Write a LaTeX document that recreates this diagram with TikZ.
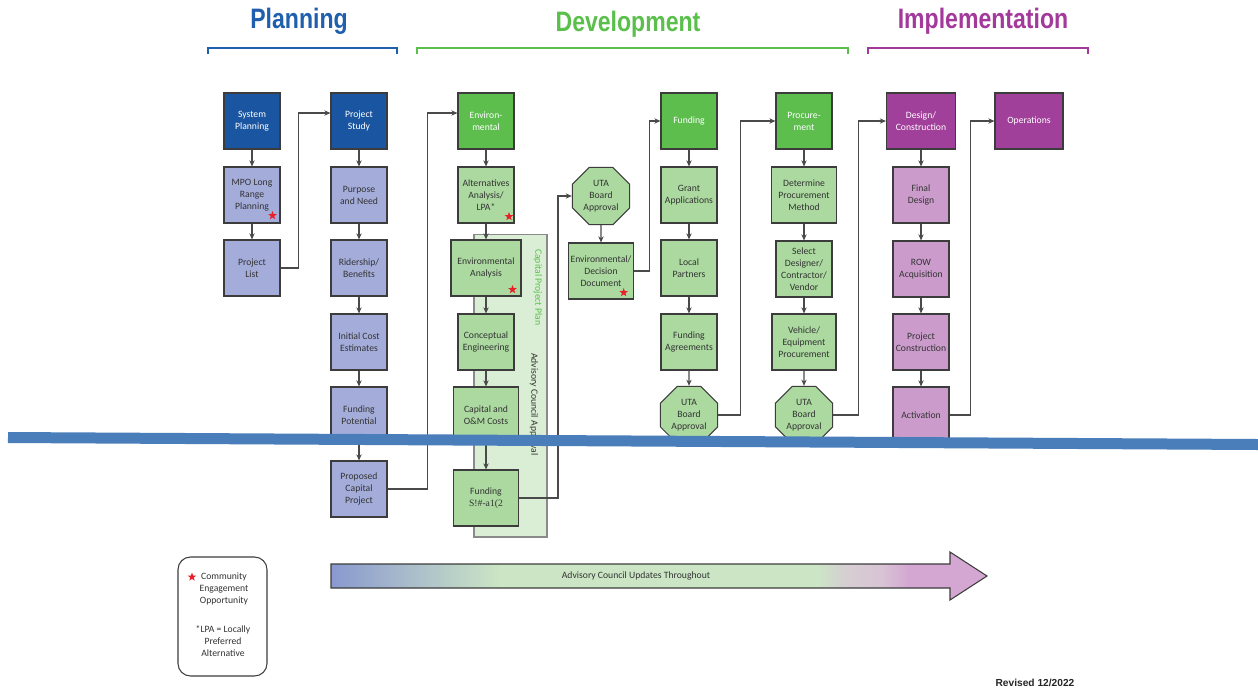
\documentclass[tikz,border=0pt]{standalone}
\usepackage{fontspec}
\usepackage{graphicx}
\setmainfont{Carlito}
\newfontfamily\titlefont{Liberation Sans}
\newfontfamily\garblefont{Liberation Serif}
\usetikzlibrary{shapes.geometric,arrows.meta,positioning}

\definecolor{planblue}{HTML}{1F5FAD}
\definecolor{plandark}{HTML}{1A55A1}
\definecolor{planlight}{HTML}{A4ACDA}
\definecolor{devgreen}{HTML}{5ABF4B}
\definecolor{devdark}{HTML}{5DBE4E}
\definecolor{devlight}{HTML}{ABD9A0}
\definecolor{implpurple}{HTML}{A3399B}
\definecolor{impldark}{HTML}{A1409A}
\definecolor{impllight}{HTML}{CB9CCB}
\definecolor{panelgreen}{HTML}{DAEDD5}
\definecolor{panelline}{HTML}{8A8A8A}
\definecolor{boxline}{HTML}{3C3C3C}
\definecolor{linegray}{HTML}{4A4A4A}
\definecolor{boxtext}{HTML}{333333}
\definecolor{slashblue}{HTML}{4A7EBB}
\definecolor{starred}{HTML}{E8202A}
\definecolor{advblue}{HTML}{8A99CF}
\definecolor{advgreen}{HTML}{CCE6C5}
\definecolor{advgray}{HTML}{D5D0D1}
\definecolor{advmauve}{HTML}{D9C3D5}
\definecolor{advpink}{HTML}{D4A7D2}

\pgfdeclarehorizontalshading{advshade}{100bp}{color(0bp)=(advblue); color(25bp)=(advblue); color(38bp)=(advgreen); color(62bp)=(advgreen); color(64bp)=(advgray); color(67bp)=(advmauve); color(69bp)=(advpink); color(75bp)=(advpink); color(100bp)=(advpink)}

\newcommand{\narrow}[1]{\scalebox{0.82}[1]{#1}}

\begin{document}
\begin{tikzpicture}[x=0.02cm, y=-0.02cm,
    stepbox/.style={draw=boxline, line width=0.6pt, minimum width=1.12cm, minimum height=1.12cm, inner sep=1pt, align=center, font=\fontsize{5.5}{6.9}\selectfont, text=boxtext},
    phasebox/.style={stepbox, text=white},
    octbox/.style={stepbox, regular polygon, regular polygon sides=8, minimum size=1.24cm, inner sep=0pt},
    cstar/.style={star, star points=5, star point ratio=2.4, fill=starred, draw=none, minimum size=0.18cm, inner sep=0pt},
    arr/.style={-{Stealth[length=3.5pt,width=3pt]}, draw=linegray, line width=0.6pt},
    lbl/.style={font=\fontsize{5.5}{6.9}\selectfont, text=boxtext, align=center},
    phasetitle/.style={font=\titlefont\bfseries\fontsize{16}{18}\selectfont},
]
\useasboundingbox (0,0) rectangle (1258,694);
\fill[white] (0,0) rectangle (1258,694);

% Phase titles
\node[phasetitle, text=planblue] (tplan) at (299,21) {\narrow{Planning}};
\node[phasetitle, text=devgreen] (tdev) at (628,24) {\narrow{Development}};
\node[phasetitle, text=implpurple] (timpl) at (983,21) {\narrow{Implementation}};
\draw[planblue, line width=1.1pt] (208,54) -- (208,48) -- (397,48) -- (397,54);
\draw[devgreen, line width=1.1pt] (417,54) -- (417,48) -- (848,48) -- (848,54);
\draw[implpurple, line width=1.1pt] (868,54) -- (868,48) -- (1088,48) -- (1088,54);

% Planning
\node[phasebox, fill=plandark] (sp) at (252,121) {System\\Planning};
\node[stepbox, fill=planlight] (mpo) at (252,195) {MPO Long\\Range\\Planning};
\node[stepbox, fill=planlight] (pl) at (252,268) {Project\\List};
\node[phasebox, fill=plandark] (ps) at (359,121) {Project\\Study};
\node[stepbox, fill=planlight] (pn) at (359,195) {Purpose\\and Need};
\node[stepbox, fill=planlight] (rb) at (359,268) {Ridership/\\Benefits};
\node[stepbox, fill=planlight] (ice) at (359,342) {Initial Cost\\Estimates};
\node[stepbox, fill=planlight] (fp) at (359,415) {Funding\\Potential};
\node[stepbox, fill=planlight] (pcp) at (359,489) {Proposed\\Capital\\Project};

% Capital project plan panel
\node[draw=panelline, fill=panelgreen, line width=0.6pt, minimum width=1.46cm, minimum height=6.06cm] (cpp) at (510.5,385.5) {};
\node[lbl, text=devgreen, rotate=-90, anchor=west] (cpptxt) at (538,243) {Capital Project Plan};
\node[lbl, rotate=-90, anchor=west] (acatxt) at (534,347) {Advisory Council Approval};

% Development
\node[phasebox, fill=devdark] (env) at (486,121) {Environ-\\mental};
\node[stepbox, fill=devlight] (alt) at (486,195) {Alternatives\\Analysis/\\LPA*};
\node[stepbox, fill=devlight, minimum width=1.4cm] (ea) at (486,268) {Environmental\\Analysis};
\node[stepbox, fill=devlight] (ce) at (486,342) {Conceptual\\Engineering};
\node[stepbox, fill=devlight, minimum width=1.3cm] (cap) at (486,415) {Capital and\\O\&M Costs};
\node[stepbox, fill=devlight, minimum width=1.3cm] (fs) at (486,498) {Funding\\{\garblefont S!\#-a1(2}};

\node[octbox, fill=devlight] (uta1) at (601,196) {UTA\\Board\\Approval};
\node[stepbox, fill=devlight, minimum width=1.28cm] (edd) at (601,271) {Environmental/\\Decision\\Document};

\node[phasebox, fill=devdark] (fund) at (689,121) {Funding};
\node[stepbox, fill=devlight] (ga) at (689,195) {Grant\\Applications};
\node[stepbox, fill=devlight] (lp) at (689,268) {Local\\Partners};
\node[stepbox, fill=devlight] (fa) at (689,342) {Funding\\Agreements};
\node[octbox, fill=devlight] (uta2) at (689,415) {UTA\\Board\\Approval};

\node[phasebox, fill=devdark] (proc) at (804,121) {Procure-\\ment};
\node[stepbox, fill=devlight, minimum width=1.3cm] (dpm) at (804,195) {Determine\\Procurement\\Method};
\node[stepbox, fill=devlight] (sd) at (804,269) {Select\\Designer/\\Contractor/\\Vendor};
\node[stepbox, fill=devlight, minimum width=1.28cm] (vep) at (804,342) {Vehicle/\\Equipment\\Procurement};
\node[octbox, fill=devlight] (uta3) at (804,415) {UTA\\Board\\Approval};

% Implementation
\node[phasebox, fill=impldark, minimum width=1.38cm] (dc) at (921,121) {Design/\\Construction};
\node[stepbox, fill=impllight] (fd) at (921,195) {Final\\Design};
\node[stepbox, fill=impllight] (row) at (921,269) {ROW\\Acquisition};
\node[stepbox, fill=impllight] (pc) at (921,342) {Project\\Construction};
\node[stepbox, fill=impllight] (act) at (921,415) {Activation};
\node[phasebox, fill=impldark, minimum width=1.36cm] (ops) at (1029,121) {Operations};

% Community engagement marks
\node[cstar] (st1) at ([shift={(-0.16cm,0.16cm)}]mpo.south east) {};
\node[cstar] (st2) at ([shift={(-0.11cm,0.14cm)}]alt.south east) {};
\node[cstar] (st3) at ([shift={(-0.18cm,0.14cm)}]ea.south east) {};
\node[cstar] (st4) at ([shift={(-0.2cm,0.14cm)}]edd.south east) {};

% Arrows - within columns
\draw[arr] (sp) -- (mpo);
\draw[arr] (mpo) -- (pl);
\draw[arr] (ps) -- (pn);
\draw[arr] (pn) -- (rb);
\draw[arr] (rb) -- (ice);
\draw[arr] (ice) -- (fp);
\draw[arr] (fp) -- (pcp);
\draw[arr] (env) -- (alt);
\draw[arr] (alt) -- (ea);
\draw[arr] (ea) -- (ce);
\draw[arr] (ce) -- (cap);
\draw[arr] (cap) -- (fs);
\draw[arr] (uta1) -- (edd);
\draw[arr] (fund) -- (ga);
\draw[arr] (ga) -- (lp);
\draw[arr] (lp) -- (fa);
\draw[arr] (fa) -- (uta2);
\draw[arr] (proc) -- (dpm);
\draw[arr] (dpm) -- (sd);
\draw[arr] (sd) -- (vep);
\draw[arr] (vep) -- (uta3);
\draw[arr] (dc) -- (fd);
\draw[arr] (fd) -- (row);
\draw[arr] (row) -- (pc);
\draw[arr] (pc) -- (act);

% Arrows - between columns
\draw[arr] (pl.east) -- ++(18,0) |- ([yshift=0.16cm]ps.west);
\draw[arr] (pcp.east) -- ++(40,0) |- ([yshift=0.16cm]env.west);
\draw[arr] (fs.east) -- ++(39,0) |- (uta1.west);
\draw[arr] (edd.east) -- ++(16,0) |- (fund.west);
\draw[arr] (uta2.east) -- ++(22,0) |- (proc.west);
\draw[arr] (uta3.east) -- ++(25,0) |- (dc.west);
\draw[arr] (act.east) -- ++(21,0) |- (ops.west);

% Legend
\node[draw=boxline, rounded corners=0.25cm, line width=0.6pt, minimum width=1.78cm, minimum height=2.38cm] (legend) at (222.5,616.5) {};
\node[lbl] (leg1) at (224,589) {Community\\Engagement\\Opportunity};
\node[cstar] (legstar) at (192,577) {};
\node[lbl] (leg2) at (223,641) {*LPA = Locally\\Preferred\\Alternative};

% Advisory council arrow
\shadedraw[shading=advshade, draw=boxline, line width=0.6pt] (331,564) -- (950,564) -- (950,552) -- (987,576) -- (950,600) -- (950,588) -- (331,588) -- cycle;
\node[lbl] (adv) at (636,576) {Advisory Council Updates Throughout};

\node[font=\titlefont\bfseries\fontsize{5.8}{7}\selectfont, text=black!85] (rev) at (1035,683) {Revised 12/2022};

% Overlay line
\draw[slashblue, line width=0.22cm] (8,437.5) -- (1258,444.5);

\end{tikzpicture}
\end{document}
